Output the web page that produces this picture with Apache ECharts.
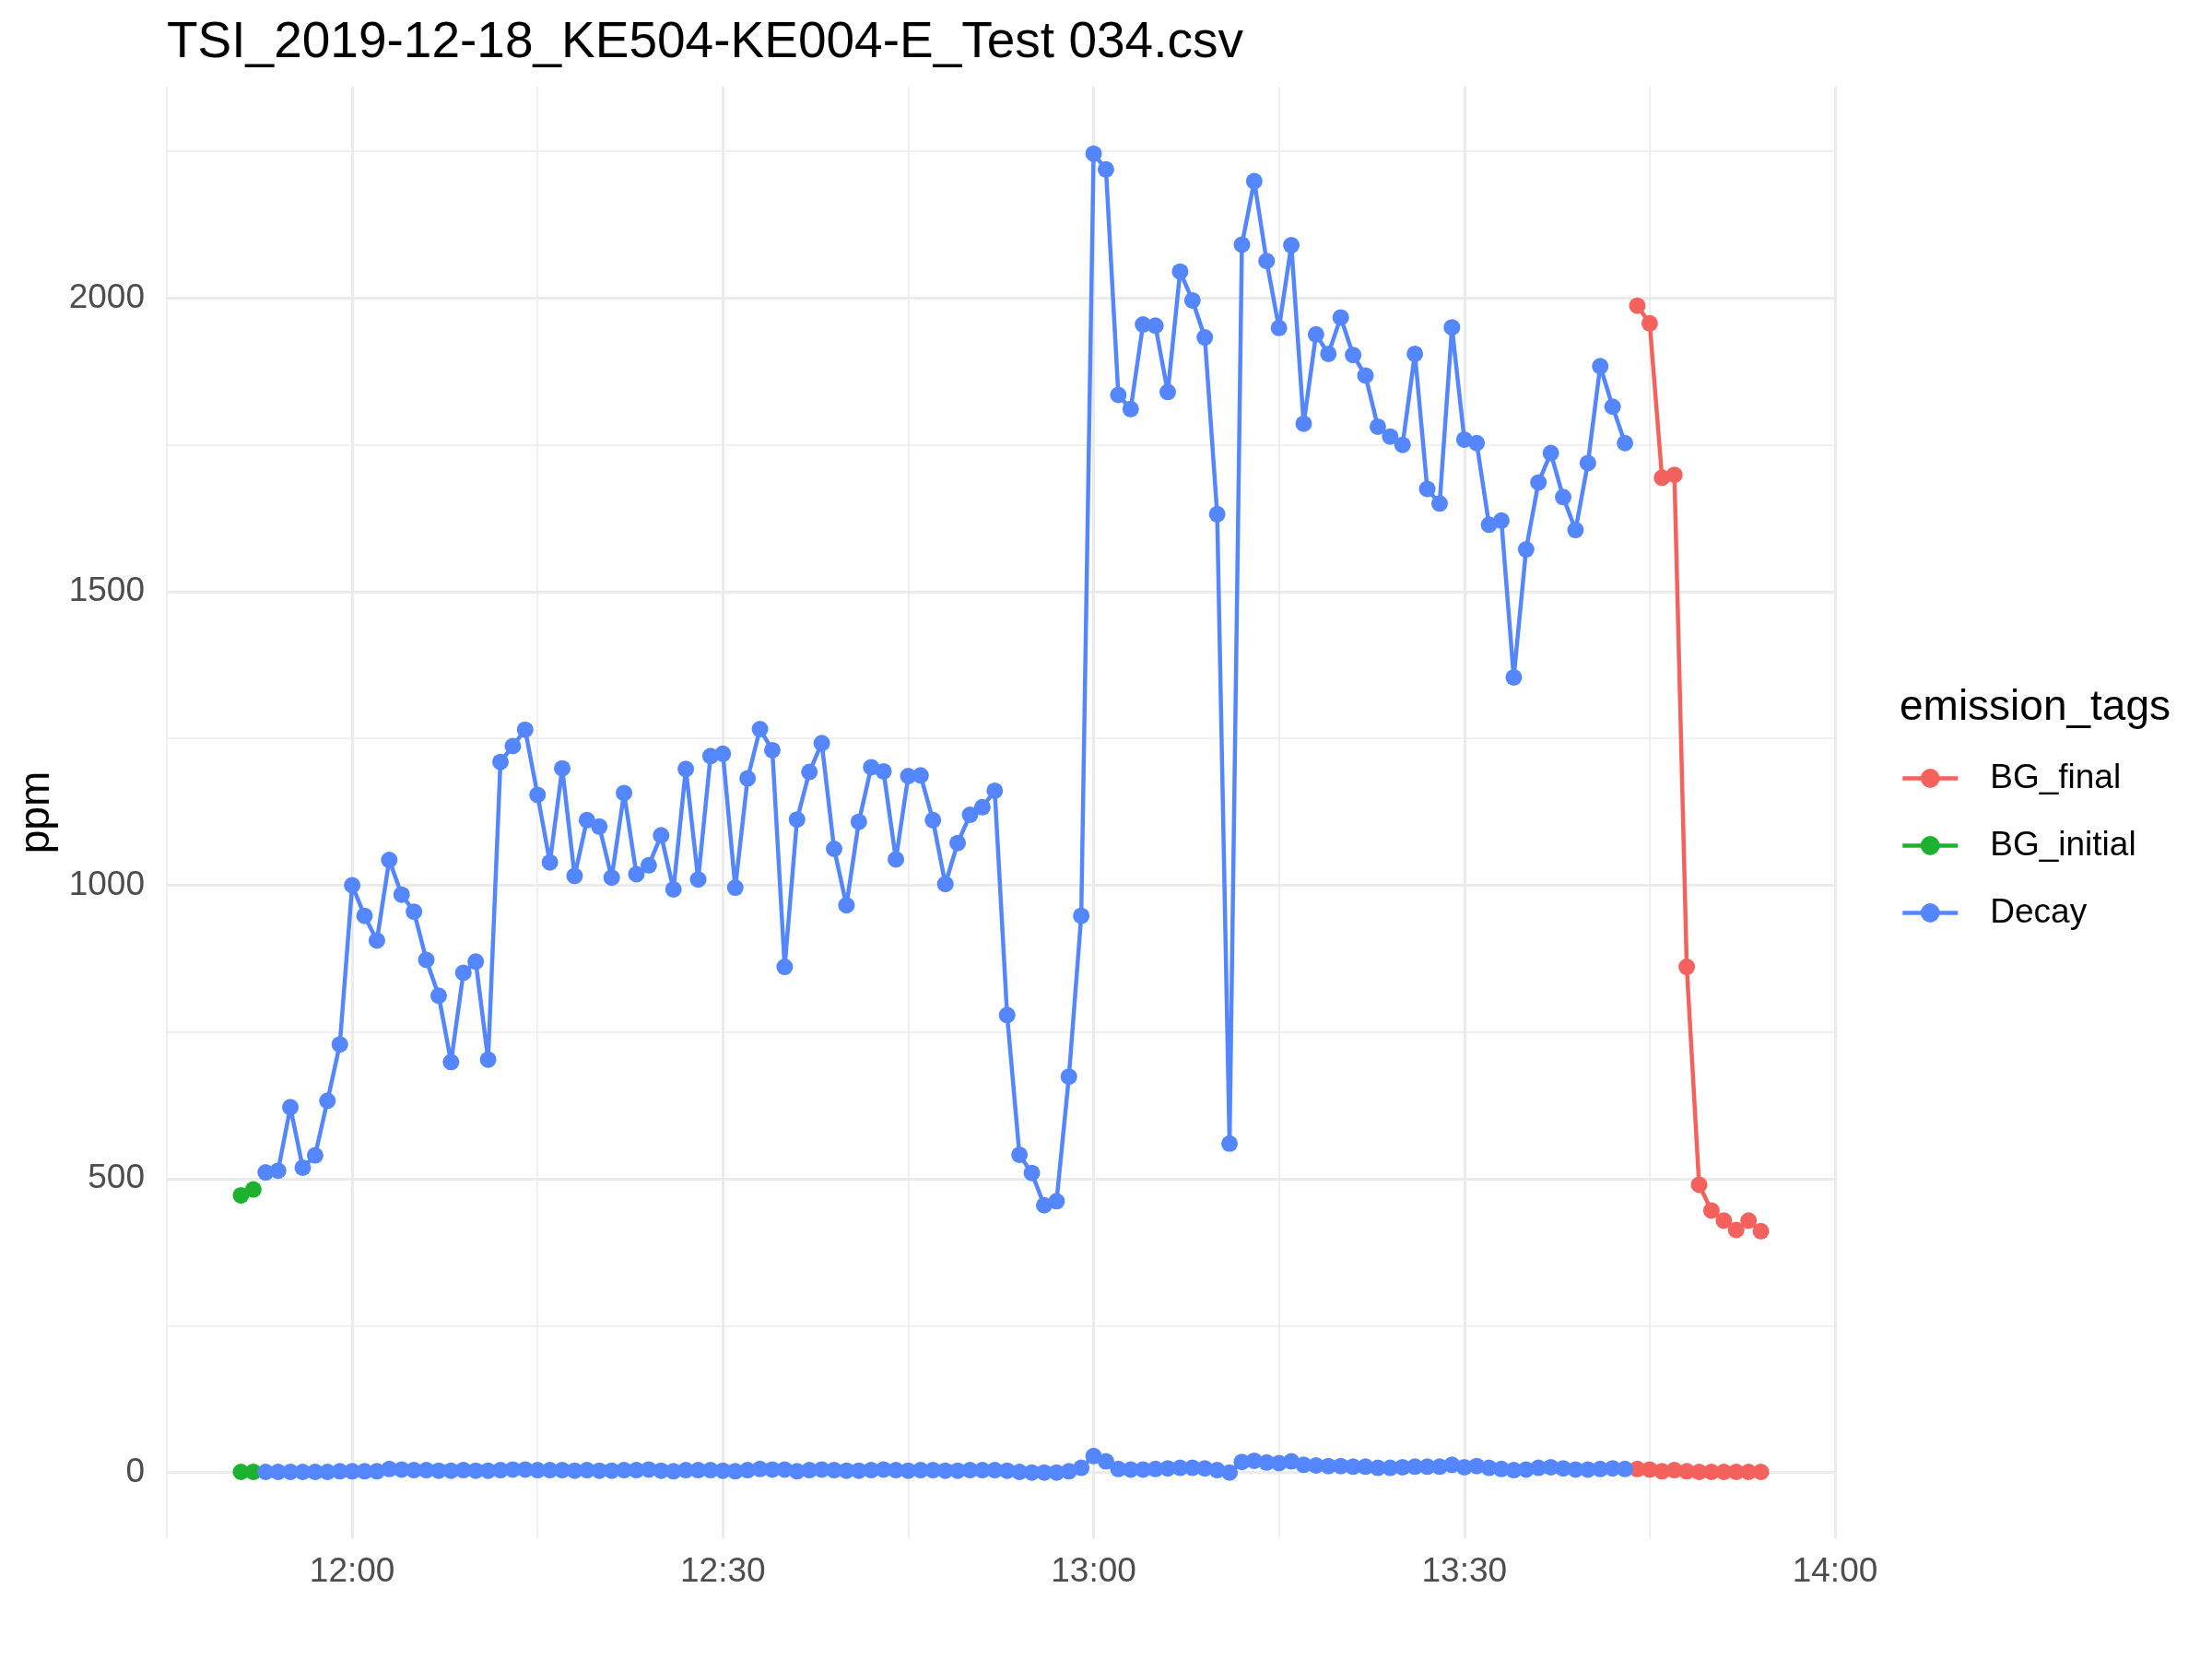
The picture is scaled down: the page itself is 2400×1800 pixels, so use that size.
<!DOCTYPE html>
<html>
<head>
<meta charset="utf-8">
<script src="https://cdn.jsdelivr.net/npm/echarts@6/dist/echarts.min.js"></script>
<style>
  html, body { margin: 0; padding: 0; background: #fff; }
  #chart { width: 2400px; height: 1800px; }
</style>
</head>
<body>
<div id="chart"></div>
<script>
// minutes since midnight of the first sample of each tag (one sample per minute)
var startInitial = 711; // 11:51
var startDecay = 713;   // 11:53
var startFinal = 824;   // 13:44

var tags = ['BG_final', 'BG_initial', 'Decay'];
var tagColors = ['#F4625D', '#1CB12F', '#5487FF'];

// upper trace (ppm)
var bgInitialHigh = [472, 482];
var decayHigh = [
    511, 514, 622, 519, 540, 633, 729,
    1000, 948, 906, 1043, 984, 955, 873, 812, 699, 851,
    870, 703, 1210, 1237, 1265, 1154, 1039, 1199, 1016, 1111,
    1100, 1013, 1157, 1019, 1034, 1085, 993, 1198, 1010, 1220,
    1224, 996, 1182, 1266, 1230, 861, 1112, 1193, 1242, 1062,
    966, 1108, 1201, 1194, 1044, 1186, 1187, 1111, 1002, 1072,
    1120, 1133, 1161, 779, 541, 510, 455, 462, 674, 948,
    2246, 2219, 1835, 1811, 1955, 1953, 1840, 2045, 1996, 1933,
    1632, 560, 2091, 2199, 2063, 1949, 2090, 1786, 1938, 1905,
    1967, 1903, 1868, 1781, 1764, 1750, 1905, 1675, 1650, 1950,
    1759, 1753, 1614, 1621, 1354, 1572, 1686, 1736, 1661, 1605,
    1719, 1884, 1815, 1753
];
var bgFinalHigh = [1987, 1957, 1694, 1699, 861, 490, 446, 429, 413, 429, 411];

// lower trace (ppm)
var bgInitialLow = [1, 1];
var decayLow = [
    1, 1, 1, 1, 1, 1, 2, 2, 2, 2,
    6, 5, 4, 4, 3, 3, 4, 3, 3, 4,
    5, 5, 4, 4, 4, 3, 4, 3, 3, 4,
    4, 5, 3, 2, 4, 4, 4, 3, 2, 4,
    6, 5, 5, 2, 4, 5, 4, 3, 3, 4,
    5, 4, 3, 4, 4, 3, 3, 4, 4, 4,
    3, 1, 0, 0, 0, 2, 8,
    28, 19, 6, 5, 5, 6, 7, 8, 8, 7,
    4, 0, 18, 20, 17, 16, 19, 13, 12, 11,
    11, 10, 10, 8, 8, 9, 10, 10, 10, 13,
    9, 11, 8, 6, 4, 5, 8, 9, 7, 5,
    5, 6, 7, 6
];
var bgFinalLow = [6, 5, 2, 4, 2, 1, 1, 1, 1, 1, 1];

// grid lines and axis labels
var xMajor = [720, 750, 780, 810, 840];
var xMinor = [705, 735, 765, 795, 825];
var yMajor = [0, 500, 1000, 1500, 2000];
var yMinor = [250, 750, 1250, 1750, 2250];

function pairs(start, vals) {
    return vals.map(function (v, i) { return [start + i, v]; });
}
function hhmm(m) {
    var h = Math.floor(m / 60), mm = m % 60;
    return (h < 10 ? '0' : '') + h + ':' + (mm < 10 ? '0' : '') + mm;
}
function tagSeries(name, color, start, vals) {
    return {
        name: name,
        type: 'line',
        data: pairs(start, vals),
        symbol: 'circle',
        symbolSize: 18,
        showSymbol: true,
        itemStyle: { color: color },
        lineStyle: { color: color, width: 4.5 },
        z: 3
    };
}

var gridLines = [];
xMajor.forEach(function (v) { gridLines.push({ xAxis: v, lineStyle: { width: 3 } }); });
xMinor.forEach(function (v) { gridLines.push({ xAxis: v, lineStyle: { width: 1.6 } }); });
yMajor.forEach(function (v) { gridLines.push({ yAxis: v, lineStyle: { width: 3 } }); });
yMinor.forEach(function (v) { gridLines.push({ yAxis: v, lineStyle: { width: 1.6 } }); });

var font = '"Liberation Sans", Arial, Helvetica, sans-serif';

var chart = echarts.init(document.getElementById('chart'));
var option = {
    animation: false,
    backgroundColor: '#fff',
    title: [
        {
            text: 'TSI_2019-12-18_KE504-KE004-E_Test 034.csv',
            left: 176, top: 14,
            textStyle: { fontFamily: font, fontSize: 55, fontWeight: 'normal', color: '#000' }
        },
        {
            text: 'emission_tags',
            left: 2056, top: 740,
            textStyle: { fontFamily: font, fontSize: 46, fontWeight: 'normal', color: '#000', lineHeight: 46 }
        }
    ],
    legend: {
        orient: 'vertical',
        left: 2057, top: 821,
        data: tags,
        itemWidth: 60,
        itemHeight: 26,
        itemGap: 36,
        lineStyle: { width: 4.5 },
        textStyle: { fontFamily: font, fontSize: 37, color: '#000', lineHeight: 37, padding: [0, 0, 0, 30] }
    },
    grid: { left: 181, right: 409, top: 94, bottom: 131 },
    xAxis: {
        type: 'value',
        min: 705, max: 840, interval: 15,
        axisLine: { show: false },
        axisTick: { show: false },
        splitLine: { show: false },
        axisLabel: {
            margin: 18,
            fontFamily: font, fontSize: 37, color: '#4D4D4D',
            formatter: function (v) { return v % 30 === 0 ? hhmm(v) : ''; }
        }
    },
    yAxis: {
        type: 'value',
        min: -112, max: 2360,
        minInterval: 500, maxInterval: 500,
        name: 'ppm',
        nameLocation: 'middle',
        nameRotate: 90,
        nameGap: 113,
        nameTextStyle: { fontFamily: font, fontSize: 46, color: '#000' },
        axisLine: { show: false },
        axisTick: { show: false },
        splitLine: { show: false },
        axisLabel: {
            margin: 24,
            fontFamily: font, fontSize: 37, color: '#4D4D4D',
            formatter: function (v) { return v % 500 === 0 ? String(v) : ''; }
        }
    },
    series: [
        {
            name: 'grid',
            type: 'line',
            data: [],
            z: 0,
            markLine: {
                silent: true,
                z: 0,
                symbol: 'none',
                label: { show: false },
                lineStyle: { color: '#EBEBEB', type: 'solid' },
                emphasis: { disabled: true },
                data: gridLines
            }
        },
        tagSeries('BG_final', tagColors[0], startFinal, bgFinalHigh),
        tagSeries('BG_final', tagColors[0], startFinal, bgFinalLow),
        tagSeries('BG_initial', tagColors[1], startInitial, bgInitialHigh),
        tagSeries('BG_initial', tagColors[1], startInitial, bgInitialLow),
        tagSeries('Decay', tagColors[2], startDecay, decayHigh),
        tagSeries('Decay', tagColors[2], startDecay, decayLow)
    ]
};
chart.setOption(option);
window.onresize = function () { chart.resize(); };
</script>
</body>
</html>
